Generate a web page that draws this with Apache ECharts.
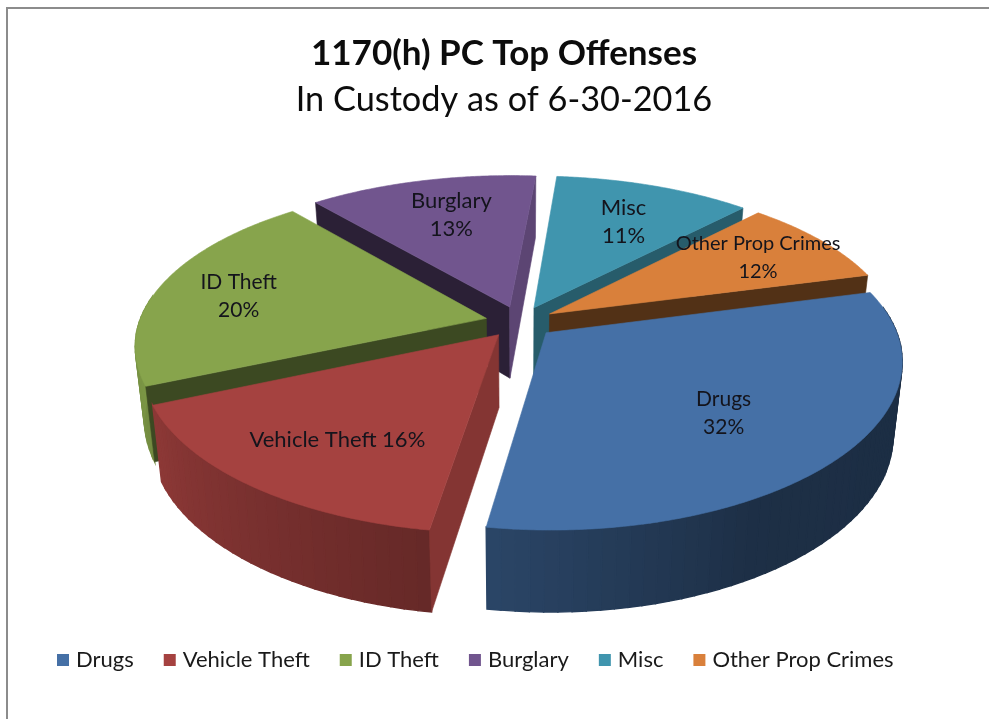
<!DOCTYPE html>
<html><head><meta charset="utf-8">
<style>html,body{margin:0;padding:0;background:#fff}#c{width:989px;height:719px}</style>
<script src="https://cdn.jsdelivr.net/npm/echarts@6/dist/echarts.min.js"></script>
</head><body><div id="c"></div>
<script>
// ---- data ----
var categories = ['Drugs','Vehicle Theft','ID Theft','Burglary','Misc','Other Prop Crimes'];
// share of the circle each slice actually occupies in the picture (percent)
var sliceShares = [31.65,15.95,20.5,12.4,10.7,8.8];
// percentages as printed on the data labels
var printedPct = [32,16,20,13,11,12];
var colors = ['#4570a6','#a54240','#87a44c','#71558e','#4095ae','#d9803b'];

// ---- layout of the 3-D view ----
var startAngle = -15, explode = 0.1;
var view = {cx:520, cy:322, rx:347, ry:159, kx:0.16, ky:0.173, depth:72, depthK:0.13, baseScale:0.976};
var paintOrder = [3,4,5,2,1,0];
var labelR = [0.65,0.707,0.75,0.693,0.677,0.752];
var labelShift = [2.55,-2.2,-1.95,1.45,1.4,0.3];
var labelOneLine = [false,true,false,false,false,false];
var labelFontSize = [21,22,21,22,22,20];

function rad(d){return d*Math.PI/180;}
function project(u,v,z){
  var s = 1/(1-view.kx*v);
  return [view.cx + view.rx*u*s*(z?view.baseScale:1),
          view.cy + view.ry*v/(1-view.ky*v) + (z?view.depth*(1+view.depthK*v):0)];
}
function lerpTable(tbl,x){
  if(x<=tbl[0][0])return tbl[0][1];
  for(var i=1;i<tbl.length;i++){ if(x<=tbl[i][0]){var a=tbl[i-1],b=tbl[i];return a[1]+(b[1]-a[1])*(x-a[0])/(b[0]-a[0]);} }
  return tbl[tbl.length-1][1];
}
var outerShade=[[0,0.40],[60,0.42],[95,0.60],[155,0.85],[180,0.92]];
var cutShade=[[0,0.82],[10,0.80],[46,0.60],[68,0.43],[75,0.38],[180,0.38]];
function shade(hex,f){
  var n=parseInt(hex.slice(1),16);
  return 'rgb('+Math.round((n>>16&255)*f)+','+Math.round((n>>8&255)*f)+','+Math.round((n&255)*f)+')';
}
function poly(pts,fill,z2,lw){
  return {type:'polygon',z2:z2,silent:true,shape:{points:pts},style:{fill:fill,stroke:fill,lineWidth:lw||0.6}};
}
var total = sliceShares.reduce(function(a,b){return a+b;},0);
var starts = []; sliceShares.reduce(function(acc,v,i){starts[i]=acc;return acc+v;},0);

function makeRender(idx){
  return function(params,api){
    var share=api.value(0), pct=api.value(1);
    var a0=startAngle+starts[idx]/total*360, a1=a0+share/total*360, mid=(a0+a1)/2;
    var du=explode*Math.cos(rad(mid)), dv=explode*Math.sin(rad(mid));
    var col=colors[idx], kids=[], N=Math.max(8,Math.round((a1-a0)/2)), z=1;
    function edge(t,zz){return project(du+Math.cos(rad(t)),dv+Math.sin(rad(t)),zz);}
    // outer curved wall
    for(var i=0;i<N;i++){
      var t0=a0+(a1-a0)*i/N,t1=a0+(a1-a0)*(i+1)/N,tm=(t0+t1)/2;
      if(Math.sin(rad(tm))<-0.15)continue;
      var norm=((tm%360)+360)%360; if(norm>180)norm=norm>270?0:180;
      kids.push(poly([edge(t0,0),edge(t1,0),edge(t1,1),edge(t0,1)],shade(col,lerpTable(outerShade,norm)),z++,1.4));
    }
    // cut walls facing the viewer
    [[a0,a0-90],[a1,a1+90]].forEach(function(w){
      var n=((w[1]%360)+360)%360;
      if(Math.sin(rad(n))<=0)return;
      kids.push(poly([project(du,dv,0),edge(w[0],0),edge(w[0],1),project(du,dv,1)],
                     shade(col,lerpTable(cutShade,n)),z++));
    });
    // top face
    var top=[project(du,dv,0)], M=Math.round(a1-a0)*2;
    for(var j=0;j<=M;j++)top.push(edge(a0+(a1-a0)*j/M,0));
    kids.push(poly(top,col,z++));
    // data label
    var la=rad(mid+labelShift[idx]);
    var lp=project(du+labelR[idx]*Math.cos(la),dv+labelR[idx]*Math.sin(la),0);
    kids.push({type:'text',z2:z++,silent:true,style:{
      text:categories[idx]+(labelOneLine[idx]?' ':'\n')+pct+'%',
      x:lp[0],y:lp[1],align:'center',verticalAlign:'middle',
      font:labelFontSize[idx]+'px Lato',lineHeight:28,fill:'#14141c'}});
    return {type:'group',children:kids};
  };
}

var chart=echarts.init(document.getElementById('c'),null,{renderer:'canvas'});
chart.setOption({
  animation:false,
  backgroundColor:'#ffffff',
  title:{
    text:'1170(h) PC Top Offenses',
    subtext:'In Custody as of 6-30-2016',
    left:499,top:31,textAlign:'center',itemGap:12,
    textStyle:{fontFamily:'Lato',fontWeight:'bold',fontSize:35,color:'#0c0c0c'},
    subtextStyle:{fontFamily:'Lato',fontWeight:'normal',fontSize:34.3,color:'#0c0c0c'}
  },
  legend:{
    data:categories,left:57,top:649,padding:0,icon:'rect',itemWidth:12,itemHeight:12,itemGap:30,
    textStyle:{fontFamily:'Lato',fontSize:22,color:'#1a1a1a',padding:[0,0,0,2]},
    selectedMode:false
  },
  graphic:[{type:'polyline',silent:true,shape:{points:[[7,719],[7,8],[989,8]]},
    style:{fill:null,stroke:'#8c8c8c',lineWidth:2}}],
  series:paintOrder.map(function(idx,order){
    return {type:'custom',name:categories[idx],coordinateSystem:'none',z:2+order,silent:true,
      itemStyle:{color:colors[idx]},
      renderItem:makeRender(idx),
      data:[[sliceShares[idx],printedPct[idx]]]};
  })
});
</script></body></html>
